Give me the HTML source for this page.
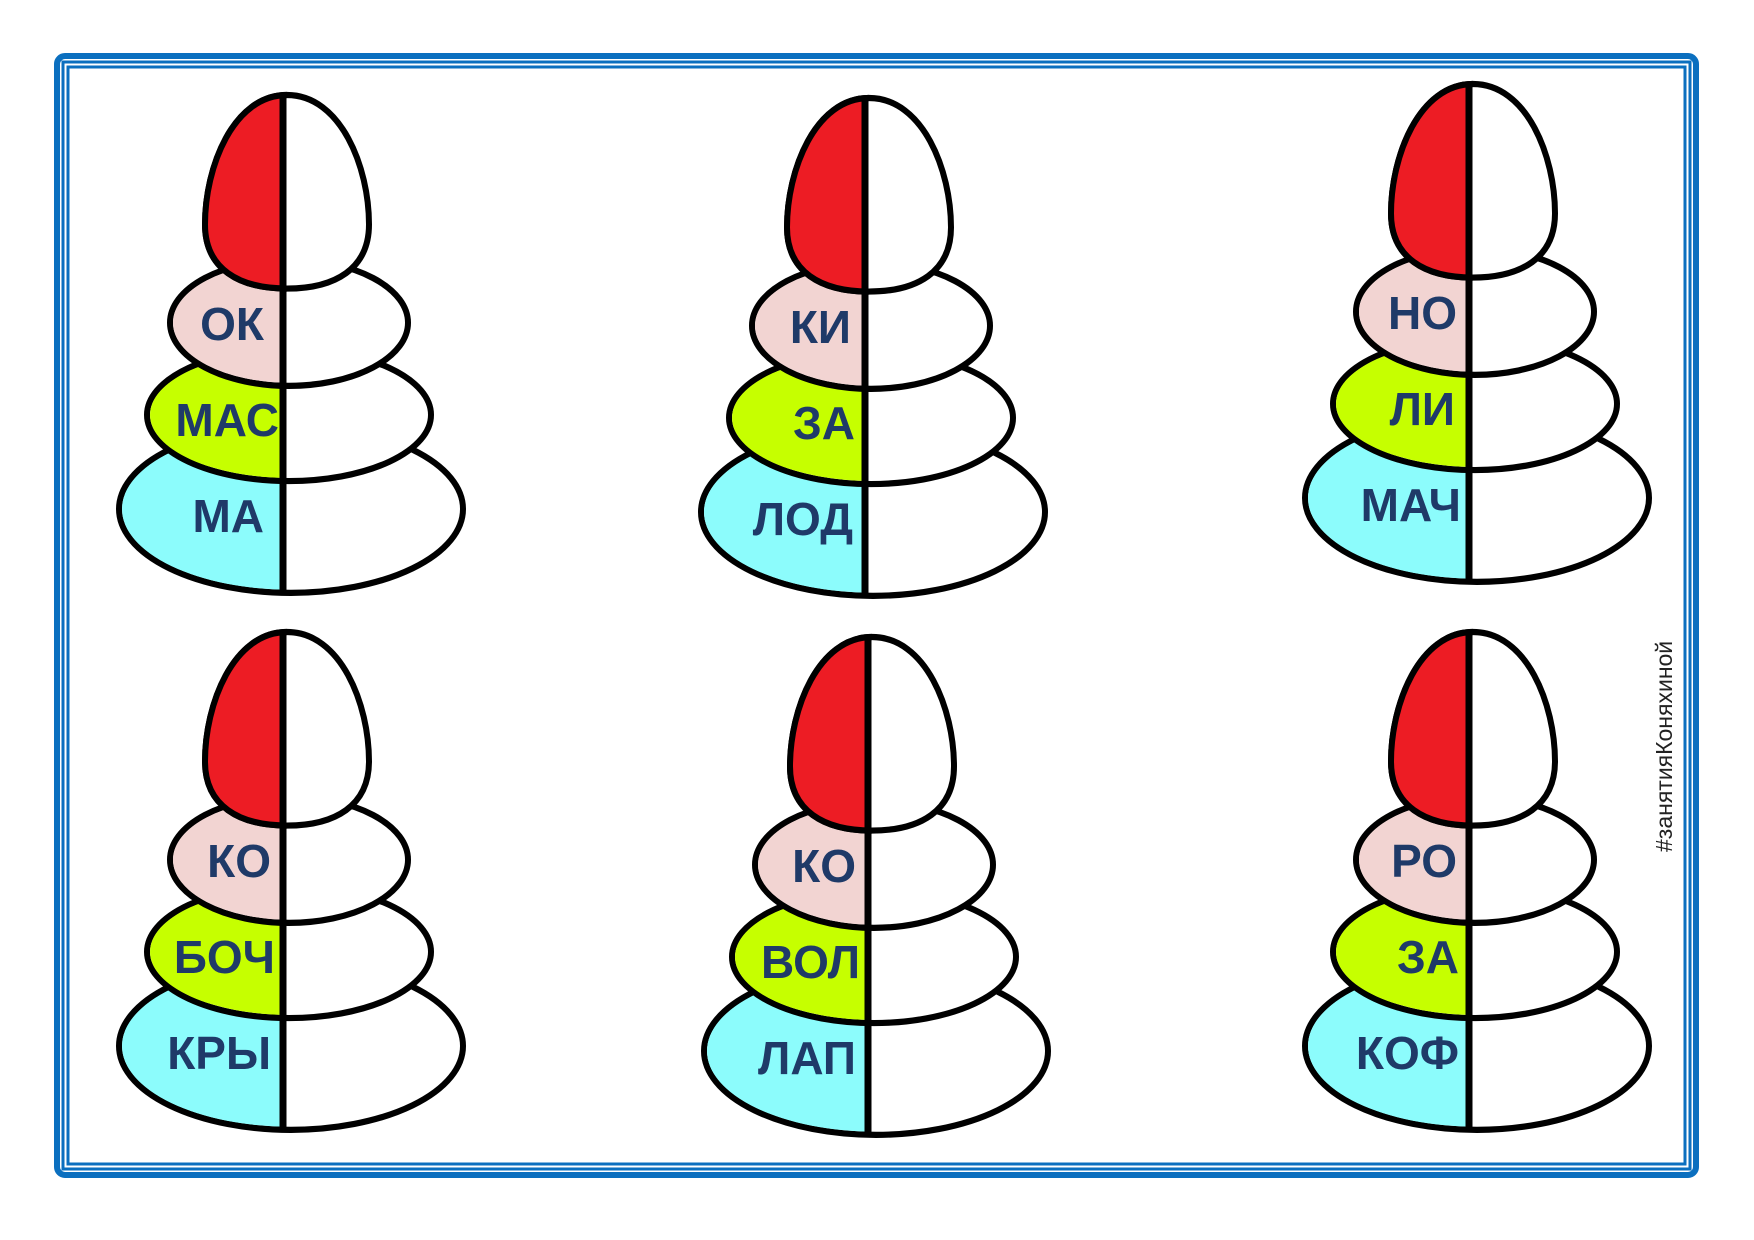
<!DOCTYPE html>
<html><head><meta charset="utf-8"><style>
html,body{margin:0;padding:0;background:#fff;width:1754px;height:1240px;overflow:hidden}
svg{display:block}
text.l{font-family:"Liberation Sans","DejaVu Sans",sans-serif;font-weight:bold;font-size:46px;fill:#1f3a68;text-anchor:end}
</style></head><body>
<svg width="1754" height="1240" viewBox="0 0 1754 1240" xmlns="http://www.w3.org/2000/svg">
<defs>
<clipPath id="lh"><rect x="-400" y="-50" width="400" height="700"/></clipPath>
<g id="pyr0">
  <ellipse cx="8" cy="400" rx="172" ry="81" fill="#fff" stroke="#000" stroke-width="6"/>
  <ellipse cx="8" cy="400" rx="169" ry="78" fill="#8cfcfc" clip-path="url(#lh)"/>
  <ellipse cx="6" cy="309" rx="142" ry="64" fill="#fff" stroke="#000" stroke-width="6"/>
  <ellipse cx="6" cy="309" rx="139" ry="61" fill="#c6ff00" clip-path="url(#lh)"/>
  <ellipse cx="6" cy="220" rx="119" ry="61" fill="#fff" stroke="#000" stroke-width="6"/>
  <ellipse cx="6" cy="220" rx="116" ry="58" fill="#f2d4d2" clip-path="url(#lh)"/>
  <path d="M4,0 C58,0 86,70 86,125 C86,168 52,187 4,187 C-44,187 -78,168 -78,125 C-78,70 -50,0 4,0 Z" fill="#fff" stroke="#000" stroke-width="6"/>
  <path d="M4,0 C58,0 86,70 86,125 C86,168 52,187 4,187 C-44,187 -78,168 -78,125 C-78,70 -50,0 4,0 Z" fill="#ed1c24" stroke="none" clip-path="url(#lh)"/>
  <path d="M4,0 C-50,0 -78,70 -78,125 C-78,168 -44,187 4,187" fill="none" stroke="#000" stroke-width="6"/>
  <line x1="0" y1="2" x2="0" y2="482" stroke="#000" stroke-width="7"/>
</g>
<g id="pyr"><use href="#pyr0" transform="translate(0,3) scale(1,1.035)"/></g>
</defs>
<rect x="57" y="56" width="1639" height="1119" rx="8" fill="none" stroke="#0b6fbf" stroke-width="6"/>
<rect x="63" y="62" width="1627" height="1107" fill="none" stroke="#0b6fbf" stroke-width="3"/>
<rect x="68" y="67" width="1617" height="1097" fill="none" stroke="#0b6fbf" stroke-width="3"/>

<g transform="translate(283,92)"><use href="#pyr"/>
<text class="l" x="-19" y="248">ОК</text><text class="l" x="-4" y="344">МАС</text><text class="l" x="-19" y="440">МА</text></g>
<g transform="translate(865,95)"><use href="#pyr"/>
<text class="l" x="-14" y="248">КИ</text><text class="l" x="-10" y="344">ЗА</text><text class="l" x="-12" y="440">ЛОД</text></g>
<g transform="translate(1469,81)"><use href="#pyr"/>
<text class="l" x="-12" y="248">НО</text><text class="l" x="-14" y="344">ЛИ</text><text class="l" x="-8" y="440">МАЧ</text></g>
<g transform="translate(283,629)"><use href="#pyr"/>
<text class="l" x="-12" y="248">КО</text><text class="l" x="-8" y="344">БОЧ</text><text class="l" x="-12" y="440">КРЫ</text></g>
<g transform="translate(868,634)"><use href="#pyr"/>
<text class="l" x="-12" y="248">КО</text><text class="l" x="-8" y="344">ВОЛ</text><text class="l" x="-12" y="440">ЛАП</text></g>
<g transform="translate(1469,629)"><use href="#pyr"/>
<text class="l" x="-12" y="248">РО</text><text class="l" x="-10" y="344">ЗА</text><text class="l" x="-10" y="440">КОФ</text></g>

<text x="0" y="0" transform="translate(1672,852) rotate(-90)" font-family="Liberation Sans, DejaVu Sans, sans-serif" font-size="23" fill="#222">#занятияКоняхиной</text>
</svg>
</body></html>
